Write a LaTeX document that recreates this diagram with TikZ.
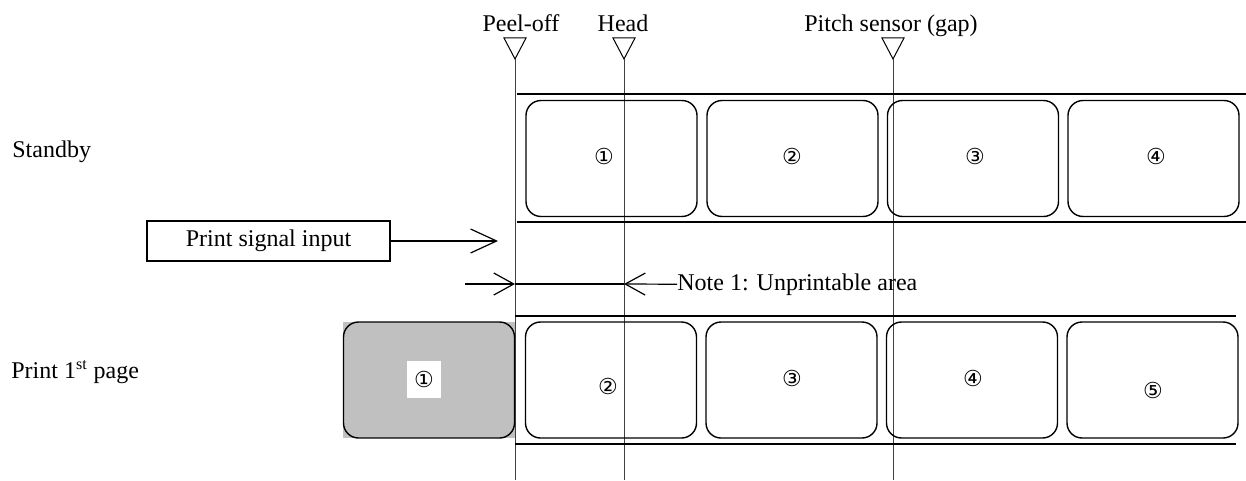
\documentclass[tikz,border=0pt]{standalone}
\usepackage{fontspec}
\setmainfont{Liberation Serif}
\newfontfamily\circfont{DejaVu Sans}
\usepackage{xcolor}
\usetikzlibrary{arrows.meta,positioning}
\definecolor{labelgray}{RGB}{192,192,192}

\begin{document}
\begin{tikzpicture}[x=0.5pt,y=-0.5pt,
	every node/.style={font=\fontsize{12}{14}\selectfont},
	labelbox/.style={draw, line width=0.7pt, rounded corners=7.5pt, minimum width=85.5pt, minimum height=58pt, inner sep=0pt},
	num/.style={font=\circfont\fontsize{11}{12}\selectfont, inner sep=0pt},
	tape/.style={line width=0.8pt},
	guide/.style={line width=0.5pt, black!75},
	bigbarb/.style={line width=0.6pt, -{Straight Barb[length=13pt,width=12pt]}},
	smallbarb/.style={line width=0.6pt, -{Straight Barb[length=10pt,width=11pt]}}]
	\useasboundingbox (0,0) rectangle (1246,481);
	% sensor positions
	\foreach \name/\x/\lx/\txt in {peel/515/521/Peel-off, head/624/623/Head, pitch/893/891/Pitch sensor (gap)}
	{
		\node[anchor=base, inner sep=0pt] (\name-txt) at (\lx,32) {\txt};
		\draw[line width=0.5pt] (\x-11,38) -- (\x+11,38) -- (\x,59) -- cycle;
		\coordinate (\name-top) at (\x,59);
		\coordinate (\name-bot) at (\x,480);
		\draw[guide] (\name-top) -- (\name-bot);
	}
	% tapes
	\draw[tape] (517,94) -- (1246,94);
	\draw[tape] (517,222) -- (1246,222);
	\draw[tape] (515,316) -- (1236,316);
	\draw[tape] (515,444) -- (1236,444);
	% standby labels
	\foreach \i/\x/\nx/\d in {1/611.5/604/①, 2/792.5/792/②, 3/973/975/③, 4/1153.5/1156/④}
	{
		\node[labelbox] (sb\i) at (\x,158.5) {};
		\node[num] (sbn\i) at (\nx,156) {\d};
	}
	% labels after 1st page
	\fill[labelgray] (343,322) rectangle (515,438);
	\node[labelbox] (pr1) at (429,380) {};
	\node[num, fill=white, minimum width=17pt, minimum height=18.5pt] (prn1) at (424,379.5) {①};
	\foreach \i/\x/\nx/\ny/\d in {2/611/608/386/②, 3/791.5/792/378/③, 4/972/973/378/④, 5/1152.5/1153/390/⑤}
	{
		\node[labelbox] (pr\i) at (\x,380) {};
		\node[num] (prn\i) at (\nx,\ny) {\d};
	}
	% row titles
	\node[anchor=base west, inner sep=0pt] (standby) at (12,157) {Standby};
	\node[anchor=base west, inner sep=0pt] (print1) at (11,378) {Print 1\textsuperscript{st} page};
	% print signal
	\node[draw, line width=0.6pt, minimum width=121.5pt, minimum height=20pt, inner sep=0pt] (sig) at (268.5,241) {Print signal input};
	\coordinate (sig-tip) at (498,241);
	\draw[bigbarb] (sig.east) -- (sig-tip);
	% unprintable area
	\coordinate (ua-from) at (465,284);
	\coordinate (ua-l) at (515,284);
	\coordinate (ua-r) at (624,284);
	\node[anchor=base west, inner sep=0pt] (note) at (677,290) {Note 1: Unprintable area};
	\draw[smallbarb] (ua-from) -- (ua-l);
	\draw[line width=0.6pt] (ua-l) -- (ua-r);
	\draw[smallbarb] (note.west) -- (ua-r);
\end{tikzpicture}
\end{document}
